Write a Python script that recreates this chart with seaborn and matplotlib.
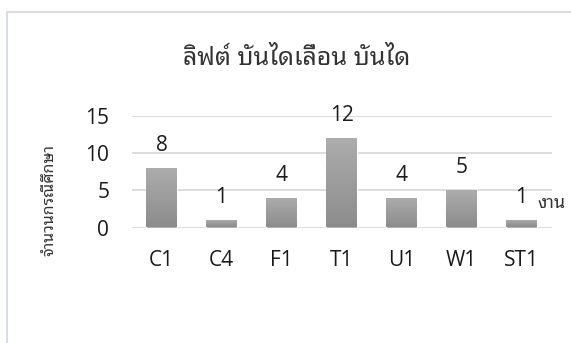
import numpy as np
import pandas as pd
import matplotlib
matplotlib.use("Agg")
import matplotlib.pyplot as plt
import seaborn as sns
from matplotlib import font_manager
from matplotlib.ft2font import FT2Font
from matplotlib.patches import Rectangle
from matplotlib.colors import LinearSegmentedColormap

# ---- data ----
categories = ["C1", "C4", "F1", "T1", "U1", "W1", "ST1"]
values = [8, 1, 4, 12, 4, 5, 1]
y_ticks = [0, 5, 10, 15]
title_text = "ลิฟต์ บันไดเลื่อน บันได"
y_label = "จำนวนกรณีศึกษา"
x_label = "งาน"


def find_thai_font():
    found = []
    for f in font_manager.fontManager.ttflist:
        try:
            cm = FT2Font(f.fname).get_charmap()
        except Exception:
            continue
        if all(c in cm for c in (0x0E25, 0x0E34, 0x0E19, 0x0E4C)):
            found.append(f.name)
    if not found:
        return None
    def rank(n):
        n2 = n.lower()
        score = 0
        if any(k in n2 for k in ("looped", "loma", "garuda", "tahoma", "leelawadee")):
            score -= 4
        if "sans" in n2:
            score -= 2
        if "mono" in n2 or ("serif" in n2 and "sans" not in n2):
            score += 3
        return score
    found = sorted(set(found), key=rank)
    return found[0]


thai_font = find_thai_font()
latin_font = "Open Sans"
thai_family = ([thai_font] if thai_font else []) + ["DejaVu Sans"]

sns.set_theme(style="white")
plt.rcParams["font.family"] = [latin_font] + thai_family

W, H = 571, 343
fig = plt.figure(figsize=(W / 100, H / 100), dpi=100)
fig.patch.set_facecolor("white")

# plot area (pixel geometry)
x0, x1 = 131.5, 551.5
yb, yt = 227.5, 116.0
ax = fig.add_axes([x0 / W, (H - yb) / H, (x1 - x0) / W, (yb - yt) / H])

df = pd.DataFrame({"cat": categories, "val": values})
sns.barplot(data=df, x="cat", y="val", ax=ax, color="#9E9E9E",
            saturation=1, width=0.51, zorder=3)

# gradient fill for each bar
cmap = LinearSegmentedColormap.from_list("g", ["#8C8C8C", "#ADADAD"])
grad = np.linspace(0, 1, 256).reshape(-1, 1)
for p in list(ax.patches):
    bx, by = p.get_x(), p.get_y()
    bw, bh = p.get_width(), p.get_height()
    im = ax.imshow(grad, extent=[bx, bx + bw, by, by + bh], origin="lower",
                   aspect="auto", cmap=cmap, zorder=3.5)
    im.set_clip_path(p)

ax.set_xlim(-0.5, len(categories) - 0.5)
ax.set_ylim(0, 15)
ax.set_yticks(y_ticks)
ax.set_xlabel("")
ax.set_ylabel("")
for s in ax.spines.values():
    s.set_visible(False)
ax.yaxis.grid(True, color="#D9D9D9", linewidth=1.3, zorder=0)
ax.set_axisbelow(True)
ax.tick_params(axis="y", length=0, pad=16, labelsize=15, labelcolor="#1a1a1a")
ax.tick_params(axis="x", length=0, pad=16, labelsize=15, labelcolor="#1a1a1a")

# data labels
for i, v in enumerate(values):
    ax.annotate(str(v), (i, v), xytext=(0, 12.3), textcoords="offset points",
                ha="center", va="baseline", fontsize=15, color="#1a1a1a",
                annotation_clip=False)

# title and axis titles
fig.text(297 / W, 1 - 65 / H, title_text, ha="center", va="baseline",
         fontsize=18, color="#333333", family=thai_family, fontweight="light")
fig.text(49 / W, 1 - 200 / H, y_label, ha="center", va="center", rotation=90,
         fontsize=11.5, color="#333333", family=thai_family, fontweight="light")
fig.text(538 / W, 1 - 208 / H, x_label, ha="left", va="baseline",
         fontsize=13, color="#333333", family=thai_family, fontweight="light")

# chart border
fig.patches.append(Rectangle((6.5 / W, -0.1), 1.2, 1.1 - 11.5 / H,
                             transform=fig.transFigure, fill=False,
                             edgecolor="#DADDE1", linewidth=1.5))

fig.savefig("out.png", dpi=100)
